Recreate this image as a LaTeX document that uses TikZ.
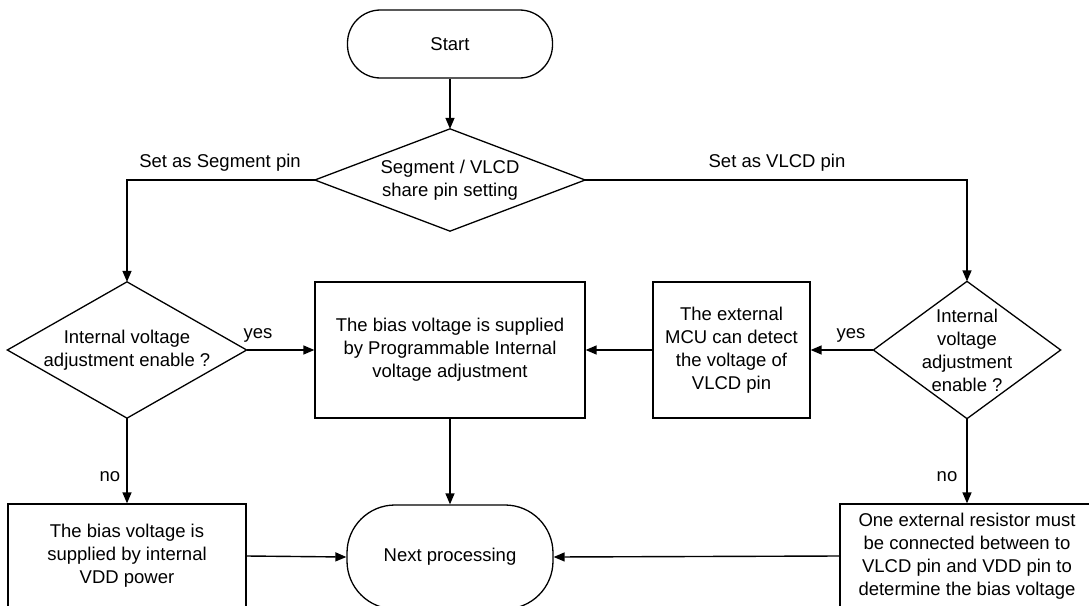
\documentclass[tikz,border=0pt]{standalone}
\usepackage{fontspec}
\setmainfont{Liberation Sans}
\usetikzlibrary{arrows.meta}
\begin{document}
\begin{tikzpicture}[x=1pt,y=-1pt, line width=1.3pt,
  font=\fontsize{18.5}{23}\selectfont,
  box/.style={draw, inner sep=0pt, align=center},
  term/.style={draw, inner sep=0pt, align=center},
  dia/.style={inner sep=0pt, align=center},
  arr/.style={-{Triangle[length=11pt,width=9pt]}, line width=1.4pt},
  lbl/.style={inner sep=0pt}]
\clip (0,0) rectangle (1089,605);
\fill[white] (0,0) rectangle (1089,605);
% shapes
\node[term, rounded corners=33pt, minimum width=205pt, minimum height=68pt] (start) at (450,44) {Start};
\node[dia, minimum width=269pt, minimum height=101pt] (d1) at (450,180) {Segment / VLCD\\share pin setting};
\draw (d1.north) -- (d1.east) -- (d1.south) -- (d1.west) -- cycle;
\node[dia, minimum width=238pt, minimum height=135pt] (d2) at (127,350) {Internal voltage\\adjustment enable ?};
\draw (d2.north) -- (d2.east) -- (d2.south) -- (d2.west) -- cycle;
\node[dia, minimum width=186pt, minimum height=136pt] (d3) at (967,350) {Internal\\voltage\\adjustment\\enable ?};
\draw (d3.north) -- (d3.east) -- (d3.south) -- (d3.west) -- cycle;
\node[box, minimum width=270pt, minimum height=136pt] (bias) at (450,350) {The bias voltage is supplied\\by Programmable Internal\\voltage adjustment};
\node[box, minimum width=157pt, minimum height=136pt] (mcu) at (731.5,350) {The external\\MCU can detect\\the voltage of\\VLCD pin};
\node[box, minimum width=238pt, minimum height=104pt] (vdd) at (127,556) {The bias voltage is\\supplied by internal\\VDD power};
\node[term, rounded corners=48pt, minimum width=206pt, minimum height=104pt] (next) at (450,557) {Next processing};
\node[box, minimum width=254pt, minimum height=104pt] (res) at (967,556) {One external resistor must\\be connected between to\\VLCD pin and VDD pin to\\determine the bias voltage};
% connectors
\draw[arr] (start.south) -- (d1.north);
\draw[arr] (d1.west) -| (d2.north);
\draw[arr] (d1.east) -| (d3.north);
\draw[arr] (d2.east) -- (bias.west);
\draw[arr] (mcu.west) -- (bias.east);
\draw[arr] (d3.west) -- (mcu.east);
\draw[arr] (bias.south) -- (next.north);
\draw[arr] (d2.south) -- (vdd.north);
\draw[arr] (d3.south) -- (res.north);
\draw[arr] (vdd.east) -- (next.west);
\draw[arr] (res.west) -- (next.east);
% labels
\node[lbl] (lseg) at (220,163) {Set as Segment pin};
\node[lbl] (lvlcd) at (777,163) {Set as VLCD pin};
\node[lbl] (lyes1) at (258,335) {yes};
\node[lbl] (lyes2) at (851,335) {yes};
\node[lbl] (lno1) at (110,477) {no};
\node[lbl] (lno2) at (947,477) {no};
\end{tikzpicture}
\end{document}
